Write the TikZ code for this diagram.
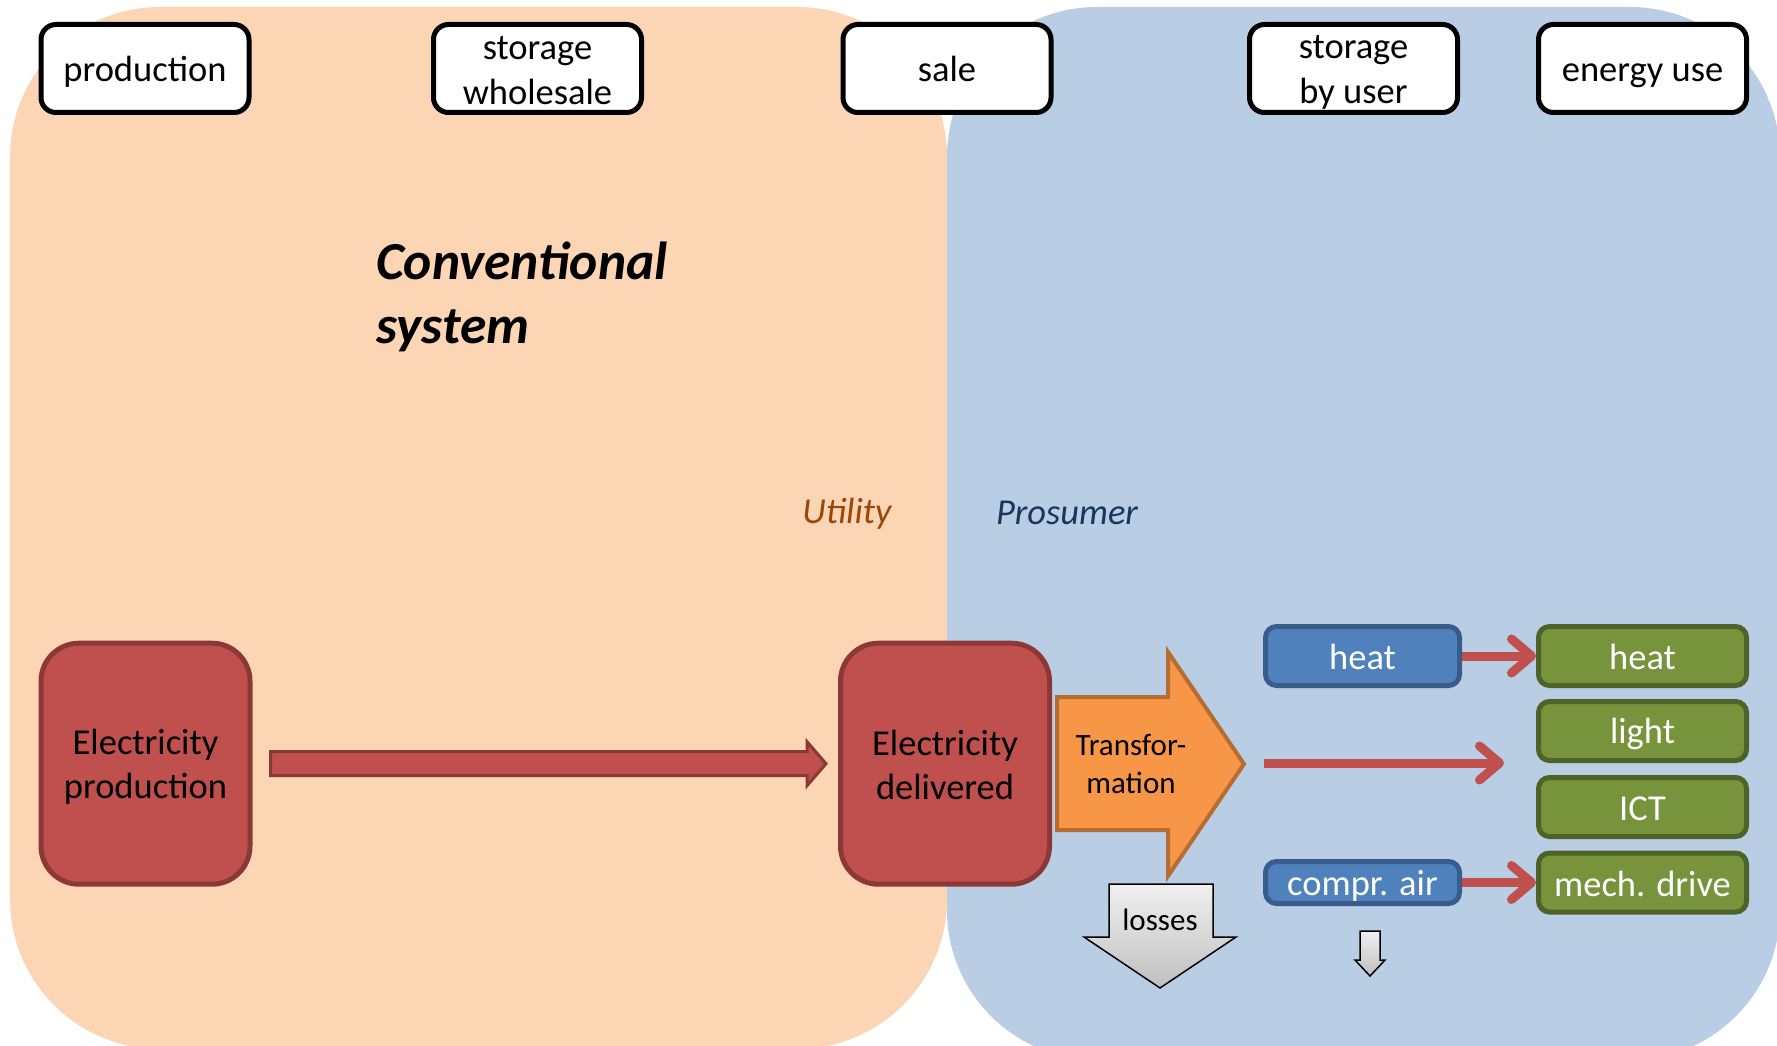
\documentclass[tikz,border=0pt]{standalone}
\usepackage{fontspec}
\setmainfont{Carlito}
\usetikzlibrary{arrows.meta,calc}

\definecolor{utilbg}{HTML}{FCD5B5}
\definecolor{prosbg}{HTML}{B9CDE5}
\definecolor{redfill}{HTML}{C0504D}
\definecolor{redline}{HTML}{8C3836}
\definecolor{orfill}{HTML}{F79646}
\definecolor{orline}{HTML}{B66D31}
\definecolor{bluefill}{HTML}{4F81BD}
\definecolor{blueline}{HTML}{385D8A}
\definecolor{greenfill}{HTML}{77933C}
\definecolor{greenline}{HTML}{4F6228}
\definecolor{utiltext}{HTML}{984807}
\definecolor{prostext}{HTML}{17375E}

\newcommand\fsz[2]{\fontsize{#1}{#2}\selectfont}
% struts giving every line the same height and depth
\newcommand\lst{\rule[-4.5pt]{0pt}{36pt}}
\newcommand\sst{\rule[-4.6pt]{0pt}{30.6pt}}
\newcommand\tst{\rule[-10.5pt]{0pt}{52pt}}

\begin{document}
\begin{tikzpicture}[x=1pt,y=-1pt,
  header/.style={draw=black, line width=5pt, fill=white, rounded corners=15pt,
    minimum width=208pt, minimum height=88pt, inner sep=0pt, align=center,
    font=\fsz{36.5}{45}},
  elbox/.style={draw=redline, fill=redfill, line width=5pt, rounded corners=38pt,
    minimum width=209pt, minimum height=241pt, inner sep=0pt, align=center,
    font=\fsz{36.5}{44}},
  storebox/.style={draw=blueline, fill=bluefill, line width=5pt, rounded corners=11pt,
    minimum width=194pt, inner sep=0pt, text=white, font=\fsz{36.5}{44}},
  usebox/.style={draw=greenline, fill=greenfill, line width=5pt, rounded corners=11pt,
    minimum width=208pt, minimum height=59pt, inner sep=0pt, text=white,
    font=\fsz{36.5}{44}},
  redarrow/.style={draw=redfill, line width=9pt,
    -{Straight Barb[length=20pt,width=34pt,round]}},
  greyarrow/.style={draw=black, line width=1.5pt, top color=white!94!black,
    bottom color=white!75!black},
  sidelabel/.style={font=\fsz{36.5}{44}\itshape, inner sep=0pt}
]
\useasboundingbox (0,0) rectangle (1777,1046);

% the two regions
\fill[utilbg, rounded corners=150pt] (10,7) rectangle (947,1049);
\fill[prosbg, rounded corners=150pt] (947,7) rectangle (1780,1060);

% column headings
\node[header] (hprod) at (145,68.5) {\lst production};
\node[header] (hwhole) at (537.5,68.5) {\lst storage\\\lst wholesale};
\node[header] (hsale) at (947,68.5) {\lst sale};
\node[header] (huser) at (1353.5,68.5) {\lst storage\\\lst by user};
\node[header] (huse) at (1642.5,68.5) {\lst energy use};

% title and region names
\node[font=\fsz{53.5}{63.5}\bfseries\itshape, align=left, anchor=west, inner sep=0pt]
  (title) at (376,296) {\tst Conventional\\\tst system};
\node[sidelabel, text=utiltext] (util) at (847,511) {\lst Utility};
\node[sidelabel, text=prostext] (pros) at (1067,511) {\lst Prosumer};

% utility side
\node[elbox] (prod) at (145.5,763.7) {\lst Electricity\\\lst production};
\node[elbox] (deliv) at (945,763.7) {\lst Electricity\\\lst delivered};

\coordinate (a1) at ($(prod.east)+(18,0)$);
\coordinate (a2) at ($(deliv.west)+(-12,0)$);
\draw[redline, fill=redfill, line width=3pt, line join=miter]
  ($(a1)+(0,-12)$) -- ($(a2)+(-19,-12)$) -- ($(a2)+(-19,-22)$) -- (a2)
  -- ($(a2)+(-19,22)$) -- ($(a2)+(-19,12)$) -- ($(a1)+(0,12)$) -- cycle;

% transformation
\draw[orline, fill=orfill, line width=4pt, line join=miter]
  (1057,697) -- (1168,697) -- (1168,652) -- (1244,764) -- (1168,876)
  -- (1168,830) -- (1057,830) -- cycle;
\node[align=center, font=\fsz{31}{38}, inner sep=0pt] (trans) at (1131,764)
  {\sst Transfor-\\\sst mation};

% losses
\draw[greyarrow]
  (1109,884) -- (1213,884) -- (1213,937) -- (1236,937) -- (1160,988)
  -- (1084,937) -- (1109,937) -- cycle;
\node[font=\fsz{31}{38}, inner sep=0pt] (loss) at (1160,920) {\sst losses};

% storage by the user
\node[storebox, minimum height=59pt] (heatS) at (1362.5,656) {\lst heat};
\node[storebox, minimum height=42pt] (airS) at (1362.5,882.5) {\lst compr. air};
\draw[greyarrow]
  (1360,931) -- (1380,931) -- (1380,960) -- (1385,960) -- (1370,976)
  -- (1355,960) -- (1360,960) -- cycle;

% energy use
\node[usebox] (heatU) at (1642.5,656) {\lst heat};
\node[usebox] (light) at (1642.5,731) {\lst light};
\node[usebox] (ict) at (1642.5,807) {\lst ICT};
\node[usebox] (mech) at (1642.5,882.5) {\lst mech. drive};

% flows
\coordinate (midS) at (1264,763);
\coordinate (midE) at (1504,763);
\draw[redarrow] (heatS.east) -- (heatU.west);
\draw[redarrow] (midS) -- (midE);
\draw[redarrow] (airS.east) -- (mech.west);
\end{tikzpicture}
\end{document}
